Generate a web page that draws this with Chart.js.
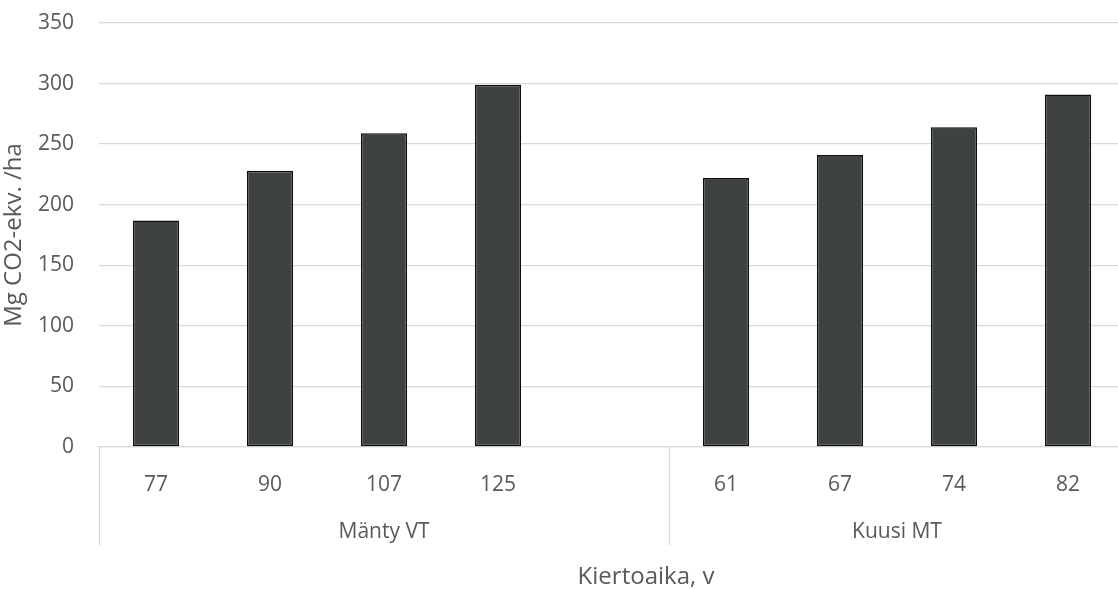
<!DOCTYPE html>
<html>
<head>
<meta charset="utf-8">
<script src="https://cdn.jsdelivr.net/npm/chart.js@4"></script>
<style>
  html, body { margin: 0; padding: 0; overflow: hidden; background: #ffffff; }
  #wrap { width: 1125px; height: 590px; position: relative; }
</style>
</head>
<body>
<div id="wrap"><canvas id="c"></canvas></div>
<script>
// Rotation ages (years), with an empty slot separating the two stand types
const categories = ['77', '90', '107', '125', '', '61', '67', '74', '82'];
// Carbon balance per hectare, Mg CO2-eq./ha
const values = [187, 228, 259, 299, null, 222, 241, 264, 291];
// Stand-type groups along the x axis: name and first/last category index
const groupNames = ['Mänty VT', 'Kuusi MT'];
const groupStart = [0, 5];
const groupEnd = [4, 8];
// Value axis ticks
const yTicks = [0, 50, 100, 150, 200, 250, 300, 350];

const FONT = "'Open Sans', 'Noto Sans', sans-serif";
const TEXT = '#595959';
const LINE = '#d9d9d9';

const groupAxis = {
  id: 'groupAxis',
  afterDraw(chart) {
    const x = chart.scales.x;
    const area = chart.chartArea;
    const ctx = chart.ctx;
    const half = (x.getPixelForValue(1) - x.getPixelForValue(0)) / 2;
    ctx.save();
    ctx.strokeStyle = LINE;
    ctx.lineWidth = 1.3;
    ctx.fillStyle = TEXT;
    ctx.font = '21px ' + FONT;
    ctx.textAlign = 'center';
    ctx.textBaseline = 'middle';
    for (let g = 0; g < groupNames.length; g++) {
      const left = x.getPixelForValue(groupStart[g]) - half;
      const right = x.getPixelForValue(groupEnd[g]) + half;
      for (const px of [left, right]) {
        ctx.beginPath();
        ctx.moveTo(Math.round(px) + 0.5, area.bottom);
        ctx.lineTo(Math.round(px) + 0.5, area.bottom + 98);
        ctx.stroke();
      }
      ctx.fillText(groupNames[g], (left + right) / 2, area.bottom + 85);
    }
    // x axis title
    ctx.font = '24px ' + FONT;
    ctx.fillText('Kiertoaika, v', 646, 577);
    ctx.restore();
  }
};

new Chart(document.getElementById('c'), {
  type: 'bar',
  data: {
    labels: categories,
    datasets: [{
      data: values,
      backgroundColor: '#3e4243',
      borderColor: '#0e0e0e',
      borderWidth: 1.6,
      borderSkipped: false,
      categoryPercentage: 1.0,
      barPercentage: 0.406
    }]
  },
  options: {
    responsive: true,
    maintainAspectRatio: false,
    animation: false,
    layout: { padding: { top: 23, right: 0, bottom: 0, left: 0 } },
    plugins: { legend: { display: false }, tooltip: { enabled: false } },
    scales: {
      x: {
        grid: { display: false, drawTicks: false },
        border: { display: true, color: LINE, width: 1.3 },
        ticks: { color: TEXT, font: { family: FONT, size: 21 }, padding: 25, maxRotation: 0, autoSkip: false },
        afterFit(scale) { scale.height = 143; }
      },
      y: {
        min: 0,
        max: 350,
        afterBuildTicks(scale) { scale.ticks = yTicks.map(v => ({ value: v })); },
        grid: { color: LINE, lineWidth: 1.3, drawTicks: false },
        border: { display: false },
        ticks: { color: TEXT, font: { family: FONT, size: 21 }, padding: 25 },
        title: { display: true, text: 'Mg CO2-ekv. /ha', color: TEXT, font: { family: FONT, size: 24 }, padding: { top: 0, bottom: 4 } },
        afterFit(scale) {
          scale.width = 99;
          scale.paddingTop = 0;
          scale.paddingBottom = 0;
        }
      }
    }
  },
  plugins: [groupAxis]
});
</script>
</body>
</html>
